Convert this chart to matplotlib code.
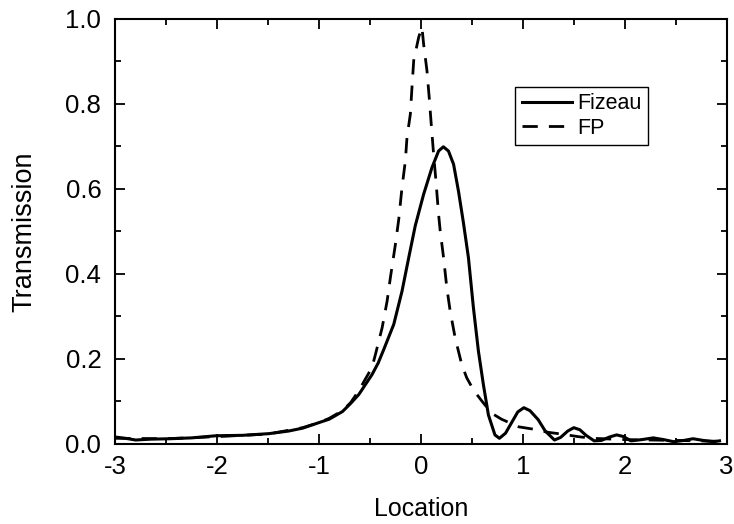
import matplotlib.pyplot as plt
from matplotlib.ticker import MultipleLocator

plt.rcParams['font.family'] = ['Liberation Sans', 'DejaVu Sans']
plt.rcParams['axes.unicode_minus'] = False

# Fizeau (solid) curve
fiz_x = [-3.0, -2.9, -2.8, -2.65, -2.46, -2.25, -2.01, -1.75, -1.49, -1.3,
         -1.16, -1.0, -0.9, -0.77, -0.69, -0.61, -0.48, -0.42, -0.365, -0.267,
         -0.186, -0.12, -0.056, 0.026, 0.108, 0.173, 0.22, 0.27, 0.32, 0.368,
         0.417, 0.466, 0.515, 0.564, 0.613, 0.662, 0.726, 0.77, 0.83, 0.89,
         0.95, 1.01, 1.07, 1.15, 1.22, 1.31, 1.37, 1.44, 1.5, 1.56,
         1.62, 1.7, 1.77, 1.85, 1.92, 1.99, 2.06, 2.17, 2.28, 2.38,
         2.48, 2.58, 2.67, 2.77, 2.87, 2.93]
fiz_y = [0.016, 0.013, 0.009, 0.011, 0.012, 0.014, 0.019, 0.02, 0.024, 0.03,
         0.037, 0.05, 0.058, 0.076, 0.095, 0.116, 0.163, 0.19, 0.222, 0.281,
         0.359, 0.438, 0.513, 0.587, 0.65, 0.689, 0.699, 0.689, 0.658, 0.595,
         0.52, 0.438, 0.32, 0.218, 0.139, 0.068, 0.021, 0.013, 0.025, 0.05,
         0.075, 0.085, 0.078, 0.057, 0.03, 0.009, 0.015, 0.03, 0.038, 0.033,
         0.02, 0.007, 0.008, 0.016, 0.021, 0.017, 0.007, 0.01, 0.014, 0.01,
         0.005, 0.008, 0.012, 0.008, 0.005, 0.007]

# Fabry-Perot (dashed) curve
fp_x = [-3.0, -2.5, -2.0, -1.5, -1.16, -1.0, -0.9, -0.77, -0.69, -0.61,
        -0.48, -0.447, -0.381, -0.332, -0.3, -0.251, -0.218, -0.186, -0.153, -0.137,
        -0.104, -0.088, -0.071, -0.022, 0.01, 0.026, 0.059, 0.081, 0.101, 0.124,
        0.147, 0.173, 0.189, 0.222, 0.254, 0.287, 0.336, 0.401, 0.45, 0.52,
        0.6, 0.694, 0.79, 0.96, 1.09, 1.25, 1.38, 1.54, 1.68, 2.0,
        2.5, 2.93]
fp_y = [0.013, 0.012, 0.017, 0.023, 0.038, 0.05, 0.06, 0.078, 0.097, 0.125,
        0.18, 0.21, 0.273, 0.336, 0.391, 0.469, 0.528, 0.603, 0.666, 0.721,
        0.776, 0.839, 0.902, 0.957, 0.98, 0.941, 0.878, 0.815, 0.752, 0.682,
        0.619, 0.54, 0.501, 0.438, 0.367, 0.312, 0.249, 0.186, 0.155, 0.125,
        0.1, 0.072, 0.058, 0.04, 0.035, 0.027, 0.023, 0.017, 0.013, 0.01,
        0.008, 0.006]

fig = plt.figure(figsize=(7.34, 5.24), dpi=100)
ax = fig.add_axes([0.157, 0.153, 0.833, 0.811])

ax.plot(fiz_x, fiz_y, color='black', lw=2.2, label='Fizeau')
ax.plot(fp_x, fp_y, color='black', lw=2.0, dashes=(5.5, 4), label='FP')

ax.set_xlim(-3, 3)
ax.set_ylim(0, 1.0)
ax.xaxis.set_major_locator(MultipleLocator(1))
ax.xaxis.set_minor_locator(MultipleLocator(0.5))
ax.yaxis.set_major_locator(MultipleLocator(0.2))
ax.yaxis.set_minor_locator(MultipleLocator(0.1))
ax.yaxis.set_major_formatter(plt.FormatStrFormatter('%.1f'))
ax.tick_params(which='both', direction='in', top=True, right=True,
               labelsize=18.5, width=1.3)
ax.tick_params(axis='x', which='major', pad=8)
ax.tick_params(axis='y', which='major', pad=10)
ax.tick_params(which='major', length=7)
ax.tick_params(which='minor', length=4)
for s in ax.spines.values():
    s.set_linewidth(1.5)

ax.set_xlabel('Location', fontsize=18)
ax.set_ylabel('Transmission', fontsize=19.5)
ax.xaxis.set_label_coords(0.5, -0.125)
ax.yaxis.set_label_coords(-0.128, 0.5)

leg = ax.legend(loc='upper left', bbox_to_anchor=(0.654, 0.84),
                borderaxespad=0, fontsize=15.5, handlelength=2.35,
                handletextpad=0.25, fancybox=False, edgecolor='black',
                framealpha=1, borderpad=0.3, labelspacing=0.15)
leg.get_frame().set_linewidth(1.0)

fig.savefig('out.png', dpi=100)
